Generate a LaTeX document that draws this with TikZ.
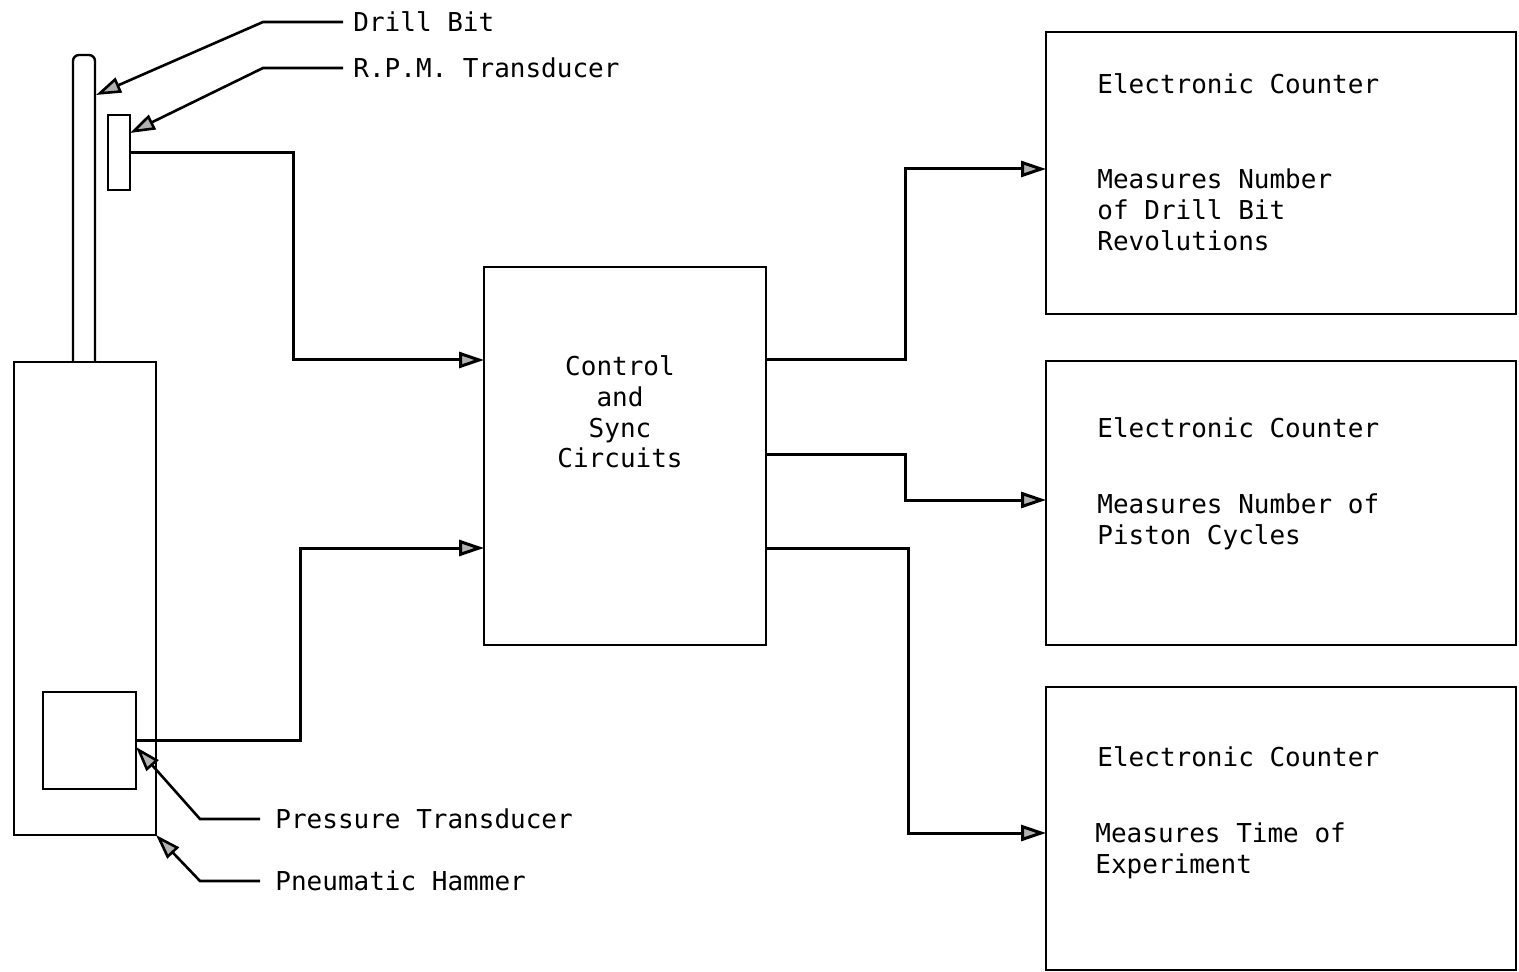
\documentclass[tikz,border=0pt]{standalone}
\usepackage{fontspec}
\setmonofont{DejaVu Sans Mono}
\usetikzlibrary{arrows.meta}
\begin{document}
\begin{tikzpicture}[x=0.5pt,y=-0.5pt,>={Triangle[length=12.5pt,width=8pt,fill=black!30]}]
	%---------------- Styles ----------------
	\tikzset{
		box/.style={draw, line width=1.2pt, inner sep=0pt, outer sep=0pt}, % block outlines
		wire/.style={line width=1.5pt},                                   % signal lines
		lead/.style={line width=1.3pt},                                   % label leaders
		lbl/.style={inner sep=0pt, anchor=west, align=left,
			font=\ttfamily\fontsize{13}{15.4}\selectfont},                  % typed labels
	}
	\useasboundingbox (0,0) rectangle (1519,972);
	
	%---------------- Hammer, drill bit, transducers ----------------
	\node[box, minimum width=71pt, minimum height=236.5pt] (hammer) at (85,598.5) {};
	\draw[box, rounded corners=3pt] (73,362) -- (73,55) -- (95,55) -- (95,362);
	\coordinate (bit) at (96,95);
	\node[box, minimum width=11pt, minimum height=37.5pt] (rpm) at (119,152.5) {};
	\node[box, minimum width=46.5pt, minimum height=48.5pt] (press) at (89.5,740.5) {};
	
	%---------------- Control and counters ----------------
	\node[box, minimum width=141pt, minimum height=189pt] (ctrl) at (625,456) {};
	\node[lbl, anchor=center, align=center] (ctrltxt) at (620,412) {Control\\and\\Sync\\Circuits};
	
	\node[box, minimum width=235pt, minimum height=141pt] (cnta) at (1281,173) {};
	\node[box, minimum width=235pt, minimum height=142pt] (cntb) at (1281,503) {};
	\node[box, minimum width=235pt, minimum height=141.5pt] (cntc) at (1281,828.5) {};
	
	\node[lbl] (titlea) at (1097,84) {Electronic Counter};
	\node[lbl] (desca) at (1097,210) {Measures Number\\of Drill Bit\\Revolutions};
	\node[lbl] (titleb) at (1097,428) {Electronic Counter};
	\node[lbl] (descb) at (1097,522) {Measures Number of\\Piston Cycles};
	\node[lbl] (titlec) at (1097,757) {Electronic Counter};
	\node[lbl] (descc) at (1095,851) {Measures Time of\\Experiment};
	
	%---------------- Signal lines ----------------
	\coordinate (ka) at (293,360);
	\coordinate (kb) at (300,548);
	\coordinate (kc) at (905,360);
	\coordinate (kd) at (905,455);
	\coordinate (ke) at (908,548);
	\draw[wire,->] (rpm.east) -| (ka) -- (ka -| ctrl.west);
	\draw[wire,->] (press.east) -| (kb) -- (kb -| ctrl.west);
	\draw[wire,->] (kc -| ctrl.east) -- (kc) |- (cnta.west |- 0,169);
	\draw[wire,->] (kd -| ctrl.east) -- (kd) |- (cntb.west |- 0,500);
	\draw[wire,->] (ke -| ctrl.east) -- (ke) |- (cntc.west |- 0,833);
	
	%---------------- Labels with leaders ----------------
	\node[lbl] (lbit) at (353,22) {Drill Bit};
	\node[lbl] (lrpm) at (353,68) {R.P.M. Transducer};
	\node[lbl] (lpress) at (275,819) {Pressure Transducer};
	\node[lbl] (lhammer) at (275,881) {Pneumatic Hammer};
	
	\draw[lead,->] (lbit.west) ++(-10,0) -- ++(-80,0) -- (bit);
	\draw[lead,->] (lrpm.west) ++(-10,0) -- ++(-80,0) -- (rpm.east |- 0,133);
	\draw[lead,->] (lpress.west) ++(-15,0) -- ++(-60,0) -- (press.east |- 0,747);
	\draw[lead,->] (lhammer.west) ++(-15,0) -- ++(-60,0) -- (hammer.south east);
\end{tikzpicture}
\end{document}
